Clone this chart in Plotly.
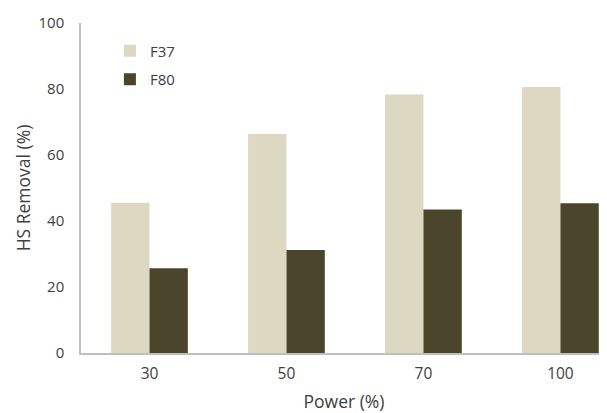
import plotly.graph_objects as go

categories = ["30", "50", "70", "100"]
f37 = [45.5, 66.4, 78.3, 80.6]
f80 = [25.7, 31.2, 43.5, 45.4]
y_ticks = [0, 20, 40, 60, 80, 100]

fig = go.Figure()
fig.add_trace(go.Bar(x=categories, y=f37, name="F37", marker_color="#DDD8C2",
                     marker_line_width=0, legendgroup="a"))
fig.add_trace(go.Bar(x=categories, y=f80, name="F80", marker_color="#4A452B",
                     marker_line_width=0, legendgroup="b"))

# page body has an 8px default margin, so the figure is drawn 8px in
W, H = 599, 405
ml, mr, mt, mb = 73, 0, 15, 60
fig.update_layout(
    width=W, height=H,
    margin=dict(l=ml, r=mr, t=mt, b=mb, autoexpand=False),
    paper_bgcolor="white", plot_bgcolor="white",
    font=dict(family="Open Sans", size=15, color="#404040"),
    barmode="group", bargap=0.44, bargroupgap=0,
    legend=dict(x=0.055, y=0.965, xanchor="left", yanchor="top",
                font=dict(size=15, color="#404040"), tracegroupgap=6,
                bgcolor="rgba(0,0,0,0)"),
    xaxis=dict(type="category", range=[-0.5, 3.34], showline=True,
               linecolor="#BFBFBF", linewidth=1.5, ticks="", showgrid=False,
               ticklabelstandoff=6,
               title=dict(text="Power (%)", font=dict(size=17.5, color="#404040"), standoff=14),
               tickfont=dict(size=15.5, color="#404040")),
    yaxis=dict(range=[0, 100], tickvals=y_ticks, showline=True, linecolor="#BFBFBF",
               linewidth=1.5, showgrid=False, zeroline=False, ticks="",
               ticklabelstandoff=12,
               title=dict(text="HS Removal (%)", font=dict(size=17.5, color="#404040"), standoff=3),
               tickfont=dict(size=15, color="#404040")),
)
fig.write_html("out.html")
